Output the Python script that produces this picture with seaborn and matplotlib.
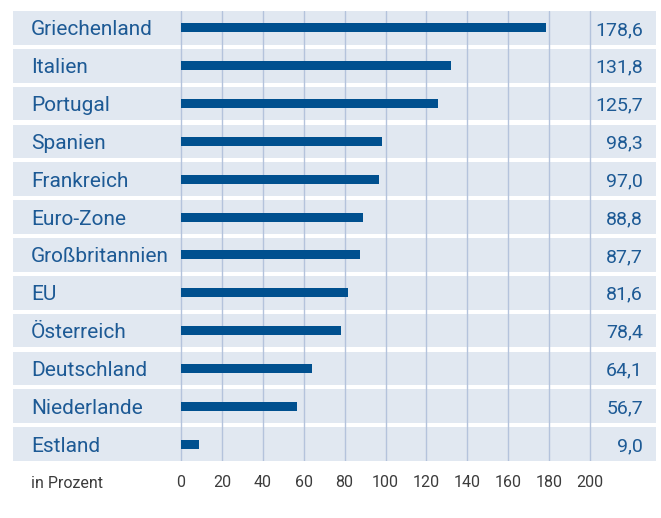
import matplotlib
matplotlib.use('Agg')
import matplotlib.pyplot as plt
import matplotlib.transforms as mtransforms
import seaborn as sns
import pandas as pd

# Staatsverschuldung in Prozent
countries = ['Griechenland', 'Italien', 'Portugal', 'Spanien', 'Frankreich', 'Euro-Zone',
             'Großbritannien', 'EU', 'Österreich', 'Deutschland', 'Niederlande', 'Estland']
values = [178.6, 131.8, 125.7, 98.3, 97.0, 88.8, 87.7, 81.6, 78.4, 64.1, 56.7, 9.0]
ticks = [0, 20, 40, 60, 80, 100, 120, 140, 160, 180, 200]

df = pd.DataFrame({'land': countries, 'wert': values})

sns.set_style('white')
plt.rcParams['font.family'] = ['Roboto', 'DejaVu Sans']

band_color = '#e1e8f1'
bar_color = '#00508f'
text_color = '#1d5a95'
grid_color = '#b4c3dc'
tick_color = '#3c3c3c'

fig = plt.figure(figsize=(6.61, 5.18), dpi=100)
# axes spans the full band area (pixels 13..656 horizontally, 11..461 vertically)
ax = fig.add_axes([13 / 661, 1 - 461 / 518, (656 - 13) / 661, (461 - 11) / 518])

px_per_unit = (590 - 181) / 200
x_left = -(181 - 13) / px_per_unit
x_right = (656 - 181) / px_per_unit
half = 0.447

for i in range(len(countries)):
    ax.axhspan(i - half, i + half, color=band_color, zorder=0, lw=0)

for t in ticks:
    ax.axvline(t, color=grid_color, lw=1, zorder=1)

sns.barplot(data=df, x='wert', y='land', orient='h', color=bar_color, width=0.24,
            saturation=1, linewidth=0, ax=ax, zorder=2)

ax.set_xlim(x_left, x_right)
ax.set_ylim(len(countries) - 1 + half, -half)

label_x = (31 - 13) / (656 - 13)
trans = mtransforms.blended_transform_factory(ax.transAxes, ax.transData)
for i, (land, wert) in enumerate(zip(countries, values)):
    ax.text(label_x, i, land, transform=trans, ha='left', va='center_baseline',
            fontsize=15, color=text_color)
    ax.text((643 - 13) / (656 - 13), i, f'{wert:.1f}'.replace('.', ','), transform=trans,
            ha='right', va='center_baseline', fontsize=14, color=text_color)

ax.set_yticks([])
ax.set_ylabel('')
ax.set_xlabel('')
ax.set_xticks(ticks)
ax.set_xticklabels([str(t) for t in ticks], fontsize=11.5, color=tick_color)
ax.tick_params(axis='x', length=0, pad=10)
for s in ax.spines.values():
    s.set_visible(False)

ax.text(label_x, -(483 - 461) / (461 - 11), 'in Prozent', transform=ax.transAxes,
        ha='left', va='center', fontsize=11.5, color=tick_color)

fig.savefig('out.png', dpi=100)
